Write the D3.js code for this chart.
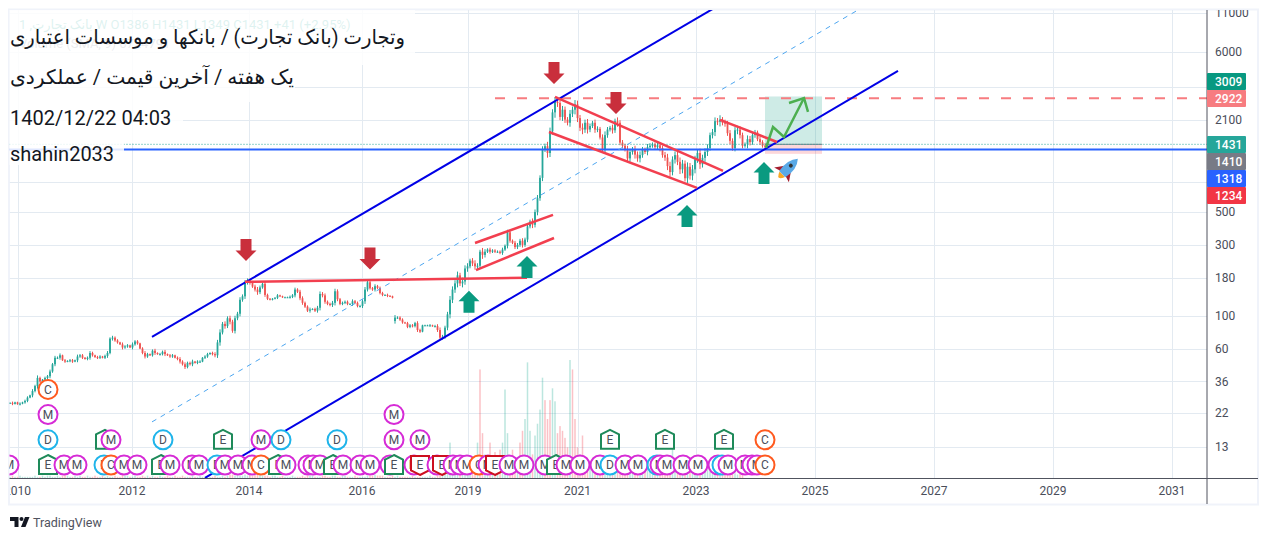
<!DOCTYPE html>
<html>
<head>
<meta charset="utf-8">
<script src="https://cdn.jsdelivr.net/npm/d3@7"></script>
<style>
  html, body { margin: 0; padding: 0; background: #fff; overflow: hidden; }
  text { font-family: Roboto, "DejaVu Sans", sans-serif; }
</style>
</head>
<body>
<div id="chart-container"></div>
<script>
// weekly closes, one entry per bar
const closesBeforeHalt = [25.8,25.4,26,25.3,25.5,26,26.6,28,29,31,33.5,38,36,37,38,39,42,47,52,
  52,54,50,49,49.5,50,49,50,53,54,52,51,52,56,54,52.5,52,53,52,53.5,56,70,71,68,66,64,61,62,63,61,64,67,65,60,56,53,55,54,58,56,55,55,57,55,54,53,54,52,51,49,47,45,48,47,49,48,49,49,52,53,55,56,55,54,66,77,88,85,96,91,79,96,103,128,135,167,173,
  167,157,150,144,155,164,138,130,128,130,132,137,135,133,133,133,134,137,150,145,131,122,115,108,110,111,108,113,140,137,124,120,118,122,146,129,120,122,124,120,120,125,122,116,116,125,150,168,153,150,158,154,142,138,138,136,135,132];
const reopenPrice = 92;
const closesAfterHalt = [97,97,94,90,89,84,86,85,89,80,78,86,86,86,86,85,85,80,71,72,83,102,128,150,165,187,165,170,208,215,235,225,215,217,270,257,270,279,270,275,270,270,265,279,296,365,320,310,290,300,320,300,326,400,431,410,500,620,850,1322,1390,1250,1750,2350,2760,2720,2190,2450,2100,2000,2300,2450,2660,2150,1850,1800,2000,1800,1900,2000,1800,1820,1590,1320,1650,1800,1850,1780,2050,2000,1470,1400,1320,1150,1270,1320,1220,1150,1210,1320,1270,1370,1400,1430,1370,1410,1350,1210,1165,1020,930,1130,1210,1090,970,1060,845,1010,880,970,1130,1250,1050,1160,1270,1350,1650,1730,2050,2030,2100,2000,1980,1700,1510,1350,1780,1800,1650,1400,1430,1550,1480,1650,1720,1550,1480,1400,1390,1431];

// how far the wicks stick out of each body, percent
const wickPct = [1,2,1,1,2,1,2,2,1,3,2,4,2,1,2,2,3,2,3,
  2,3,1,2,1,2,2,1,3,2,2,1,2,3,2,1,2,2,1,2,3,2,3,2,2,1,3,2,2,1,3,2,2,1,2,3,2,1,2,3,1,2,2,3,1,2,2,1,2,3,2,3,2,2,3,1,2,2,1,2,2,1,2,3,4,5,3,4,3,4,3,4,3,4,3,4,3,
  3,2,3,4,3,2,3,2,1,1,1,2,1,1,1,1,2,2,3,2,3,3,2,2,3,1,2,3,4,3,3,2,2,3,4,3,2,2,2,2,1,3,2,2,2,3,4,3,2,2,3,2,2,2,1,2,1,1,
  4,2,2,2,1,2,2,2,2,3,2,1,1,1,2,1,2,3,4,3,3,4,6,5,5,6,4,6,5,5,3,4,5,4,3,6,4,2,3,2,2,2,2,3,2,4,3,2,3,3,3,4,3,4,3,5,4,5,4,5,4,7,6,5,8,6,5,6,5,4,6,5,7,6,5,7,5,6,4,3,5,4,3,5,6,4,3,5,4,6,4,4,3,6,5,4,6,5,6,4,3,5,4,3,3,4,5,4,5,6,7,5,6,5,7,6,5,7,6,7,6,5,7,5,6,6,4,5,6,5,7,4,5,4,5,4,5,6,5,4,3,6,5,4,4,3,4,3,4,3,3,2,2,1];

// volume per bar, millions of shares
const volumes = [1,2,1,1,2,1,1,1,1,1,2,1,1,2,1,2,2,1,1,2,1,2,3,2,1,1,2,1,2,1,1,2,1,1,2,1,1,2,1,2,1,1,2,1,1,3,2,2,1,1,2,1,1,2,1,2,1,2,1,1,2,1,1,2,1,1,2,1,1,2,1,1,1,2,1,1,2,1,1,2,1,1,2,1,1,2,1,2,3,3,2,3,2,2,3,2,3,2,3,3,3,
  2,2,2,1,2,2,1,1,2,1,1,1,2,1,1,1,2,1,2,2,2,1,1,1,2,2,1,1,2,2,1,1,2,2,1,1,1,2,1,1,1,1,2,2,2,3,2,2,2,1,1,1,
  2,1,2,1,1,1,1,1,2,1,1,1,1,1,1,2,1,1,2,
  3,4,6,8,30,12,6,14,8,10,5,6,5,4,4,30,92,38,20,14,30,8,22,9,24,30,75,38,16,24,10,8,30,40,50,98,40,20,36,46,58,85,66,50,66,76,65,38,44,40,34,26,100,92,50,26,20,36,10,8,12,
  9,7,11,8,6,10,8,7,12,9,6,10,8,7,9,6,11,7,8,6,12,7,9,8,14,10,8,6,9,7,10,6,30,12,9,7,11,8,6,9,7,10,8,12,18,9,7,6,8,6,5,7,6,5,6,4,5,4,3,4,3];
// tall volume bars that show pink in the picture although the sampled close rises
const redVolumeBars = [188,189,204,205,214,215,216,219,220,221,225,226,227,229,230];

// x axis, bar number of each year label
const yearLabels = ['2010','2012','2014','2016','2019','2021','2023','2025','2027','2029','2031'];
const yearBars = [3,48.8,95.6,140.8,183.2,227,274.4,322,369.6,417.2,464.8];
const priceTicks = [11000,6000,3500,2100,800,500,300,180,100,60,36,22,13];
// these two sit under the price badges and never show
const coveredTicks = [3500,800];

// right hand side price labels, stacked top to bottom
const badgeValues = [3009,2922,1431,1410,1318,1234];
const badgeColors = ['#089981','#f77c80','#26a69a','#787b86','#2962ff','#f23645'];

// drawings, [bar, price]
const blueChannels = [
  [[56.8,71.9],[284,12513]],
  [[78,8.05],[355.2,4470]]
];
const midChannel = [[56.8,19.2],[339.2,11525]];
const redLines = [
  [[94,169],[206.8,180]],
  [[186,309],[217.2,478]],
  [[186.4,203],[217.6,334]],
  [[218,2985],[285.2,946]],
  [[215.6,1733],[274.8,727]],
  [[284,2089],[306.8,1484]]
];
const projection = [[302.4,1352],[305.2,1873],[309.6,1604],[317.6,2938]];
const projectionHead = [[311.6,2719],[317.6,2938],[319.2,2365]];
const longPosition = {from: 302, to: 324.8, target: 3009, entry: 1431, stop: 1234};
const downArrows = [[94.4,234],[144,205],[217.6,3655],[242.4,2292]];
const upArrows = [[183.6,147],[206.8,253],[270.8,558],[301.6,1088]];
const rocketAt = [311.4,991];
const resistance = {price: 2922, fromBar: 194};
const support = 1318;
const lastClose = 1431;

// earnings / dividend / split style markers, [type, bar], one list per stack level
const eventRows = [
  [['M',-0.4],['E',15.2],['M',21.6],['M',26.8],['D',37.6],['C',40.4],['M',45.6],['M',50.8],['E',60.4],['M',64],['M',72.8],['M',75.6],['D',82.8],['M',86],['M',91.2],['M',96.8],['C',100.4],['E',107.2],['M',110.4],['M',119.2],['M',121.2],['M',124],['E',129.2],['M',133.2],['M',140],['M',144],['M',152],['E',153.6],['M',161.6],['X',164],['M',170.8],['X',172.8],['M',177.2],['M',180],['M',182.8],['C',187.6],['M',191.2],['X',194],['M',199.6],['M',205.6],['M',214],['E',218.4],['M',222.4],['M',228],['M',236],['D',240],['M',246],['M',251.2],['D',258.8],['M',260],['M',262.8],['M',269.2],['M',275.2],['M',283.2],['D',284.8],['M',287.2],['M',294],['M',296.8],['M',298.8],['C',302]],
  [['D',15.2],['E',38],['M',40.4],['D',61.2],['E',85.2],['M',100.4],['D',108.4],['D',130.8],['M',153.6],['M',164],['E',240],['E',262],['E',285.6],['C',302]],
  [['M',15.2],['M',153.6]],
  [['C',15.2]]
];
const eventColors = {M: '#d62bd6', D: '#1fb4ea', C: '#ff5a1f', E: '#1e8a5a', X: '#cc0f1f'};

const width = 1269, height = 540;
const plotLeft = 9.5, plotRight = 1207, plotTop = 10, plotBottom = 478;

const svg = d3.select('#chart-container').append('svg')
  .attr('width', width).attr('height', height)
  .style('display', 'block');

svg.append('defs').append('clipPath').attr('id', 'plot')
  .append('rect').attr('x', plotLeft).attr('y', plotTop).attr('width', plotRight - plotLeft).attr('height', plotBottom - plotTop);
svg.select('defs').append('clipPath').attr('id', 'axis-y')
  .append('rect').attr('x', plotRight).attr('y', plotTop).attr('width', 51).attr('height', plotBottom - plotTop);
svg.select('defs').append('clipPath').attr('id', 'axis-x')
  .append('rect').attr('x', 10).attr('y', plotBottom).attr('width', 1248).attr('height', 26);

const x = d3.scaleLinear().domain([0, 479]).range([10, 1207.5]);
const y = d3.scaleLog().domain([11000, 13]).range([13, 447]);
const vol = d3.scaleLinear().domain([0, 100]).range([plotBottom, 360]);

// frame
svg.append('rect').attr('x', 9).attr('y', 9.5).attr('width', 1249).attr('height', 495)
  .attr('fill', 'none').attr('stroke', '#f0f3fa').attr('stroke-width', 2);

const plot = svg.append('g').attr('clip-path', 'url(#plot)');

// grid
plot.append('g').selectAll('line').data(priceTicks).enter().append('line')
  .attr('x1', plotLeft).attr('x2', plotRight)
  .attr('y1', d => Math.round(y(d)) + 0.5).attr('y2', d => Math.round(y(d)) + 0.5)
  .attr('stroke', '#e3eaf1').attr('stroke-width', 1);
plot.append('g').selectAll('line').data(yearBars).enter().append('line')
  .attr('x1', d => Math.round(x(d)) + 0.5).attr('x2', d => Math.round(x(d)) + 0.5)
  .attr('y1', plotTop).attr('y2', plotBottom)
  .attr('stroke', '#e3eaf1').attr('stroke-width', 1);

// bars
const closes = closesBeforeHalt.concat(closesAfterHalt);
const bars = closes.map((close, i) => {
  let open = i === 0 ? close : closes[i - 1];
  if (i === closesBeforeHalt.length) open = reopenPrice;
  const w = (wickPct[i] === undefined ? 2 : wickPct[i]) / 100;
  return {
    i, open, close,
    high: Math.max(open, close) * (1 + w),
    low: Math.min(open, close) * (1 - w),
    volume: volumes[i] === undefined ? 0 : volumes[i],
    up: close >= open
  };
});

plot.append('g').selectAll('rect').data(bars).enter().append('rect')
  .attr('x', d => x(d.i) - 0.75)
  .attr('width', 1.5)
  .attr('y', d => vol(d.volume))
  .attr('height', d => plotBottom - vol(d.volume))
  .attr('fill', d => d.up && !redVolumeBars.includes(d.i) ? '#22ab94' : '#f23645')
  .attr('opacity', 0.3);

const candle = plot.append('g').selectAll('g').data(bars).enter().append('g');
candle.append('line')
  .attr('x1', d => x(d.i)).attr('x2', d => x(d.i))
  .attr('y1', d => y(d.high)).attr('y2', d => y(d.low))
  .attr('stroke', d => d.up ? '#26a69a' : '#ef5350').attr('stroke-width', 1);
candle.append('rect')
  .attr('x', d => x(d.i) - 0.9)
  .attr('width', 1.8)
  .attr('y', d => y(Math.max(d.open, d.close)))
  .attr('height', d => Math.max(1, Math.abs(y(d.open) - y(d.close))))
  .attr('fill', d => d.up ? '#26a69a' : '#ef5350');

const line = d3.line().x(d => x(d[0])).y(d => y(d[1]));

// long position box
plot.append('rect')
  .attr('x', x(longPosition.from)).attr('width', x(longPosition.to) - x(longPosition.from))
  .attr('y', y(longPosition.target)).attr('height', y(longPosition.entry) - y(longPosition.target))
  .attr('fill', '#089981').attr('opacity', 0.2);
plot.append('rect')
  .attr('x', x(longPosition.from)).attr('width', x(longPosition.to) - x(longPosition.from))
  .attr('y', y(longPosition.entry)).attr('height', y(longPosition.stop) - y(longPosition.entry))
  .attr('fill', '#f23645').attr('opacity', 0.2);
plot.append('line')
  .attr('x1', x(longPosition.from)).attr('x2', x(longPosition.to))
  .attr('y1', y(longPosition.entry)).attr('y2', y(longPosition.entry))
  .attr('stroke', '#787b86').attr('stroke-width', 1);

// price lines
plot.append('line')
  .attr('x1', plotLeft).attr('x2', plotRight).attr('y1', y(lastClose)).attr('y2', y(lastClose))
  .attr('stroke', '#26a69a').attr('stroke-width', 1).attr('stroke-dasharray', '1,2');
plot.append('line')
  .attr('x1', plotLeft).attr('x2', plotRight).attr('y1', y(support)).attr('y2', y(support))
  .attr('stroke', '#2962ff').attr('stroke-width', 2);
plot.append('line')
  .attr('x1', x(resistance.fromBar)).attr('x2', plotRight).attr('y1', y(resistance.price)).attr('y2', y(resistance.price))
  .attr('stroke', '#f77c80').attr('stroke-width', 2).attr('stroke-dasharray', '10,12');

// channels
plot.append('g').selectAll('path').data(blueChannels).enter().append('path')
  .attr('d', line).attr('fill', 'none').attr('stroke', '#0000e6').attr('stroke-width', 2);
plot.append('path').attr('d', line(midChannel)).attr('fill', 'none')
  .attr('stroke', '#4da6f0').attr('stroke-width', 1).attr('stroke-dasharray', '5,5');
plot.append('g').selectAll('path').data(redLines).enter().append('path')
  .attr('d', line).attr('fill', 'none').attr('stroke', '#f23f4f').attr('stroke-width', 2.5);

plot.append('path').attr('d', line(projection)).attr('fill', 'none')
  .attr('stroke', '#4caf50').attr('stroke-width', 2.5);
plot.append('path').attr('d', line(projectionHead)).attr('fill', 'none')
  .attr('stroke', '#4caf50').attr('stroke-width', 2.5);

// big arrows, the tip sits on the price
const arrowUp = 'M0 0L10.5 10.5H5.5V22H-5.5V10.5H-10.5Z';
const arrowDown = 'M0 0L-10.5 -10.5H-5.5V-22H5.5V-10.5H10.5Z';
plot.append('g').selectAll('path').data(downArrows).enter().append('path')
  .attr('d', arrowDown).attr('fill', '#c92f3c')
  .attr('transform', d => `translate(${x(d[0])},${y(d[1])})`);
plot.append('g').selectAll('path').data(upArrows).enter().append('path')
  .attr('d', arrowUp).attr('fill', '#0a9a80')
  .attr('transform', d => `translate(${x(d[0])},${y(d[1])})`);

// rocket
const rocket = plot.append('g')
  .attr('transform', `translate(${x(rocketAt[0])},${y(rocketAt[1])}) rotate(45) scale(1.1)`);
rocket.append('path').attr('d', 'M-3.5 8Q0 17 3.5 8Z').attr('fill', '#f9a825');
rocket.append('path').attr('d', 'M-4 1L-9.5 9L-3 7Z').attr('fill', '#a51d2d');
rocket.append('path').attr('d', 'M4 1L9.5 9L3 7Z').attr('fill', '#a51d2d');
rocket.append('path').attr('d', 'M0 -12Q6.5 -5 4 8H-4Q-6.5 -5 0 -12Z').attr('fill', '#5aa9e6');
rocket.append('circle').attr('cx', 0).attr('cy', -3).attr('r', 1.8).attr('fill', '#333');

// markers
eventRows.forEach((row, level) => {
  const rowY = 465 - level * 25.2;
  const g = plot.append('g').selectAll('g').data(row).enter().append('g')
    .attr('transform', d => `translate(${x(d[1])},${rowY})`);
  g.filter(d => d[0] === 'E').append('path')
    .attr('d', 'M0 -10L9 -5.5V9H-9V-5.5Z');
  g.filter(d => d[0] === 'X').append('path')
    .attr('d', 'M0 10L9 5.5V-9H-9V5.5Z');
  g.filter(d => d[0] !== 'E' && d[0] !== 'X').append('circle').attr('r', 9.5);
  g.selectAll('path,circle')
    .attr('fill', '#fff').attr('stroke-width', 2)
    .attr('stroke', function () { return eventColors[d3.select(this.parentNode).datum()[0]]; });
  g.append('text')
    .attr('text-anchor', 'middle').attr('y', 4.3)
    .attr('font-size', 12).attr('fill', '#4a4e5a')
    .text(d => d[0] === 'X' ? 'E' : d[0]);
});

// legend, almost hidden by the white boxes on top of it
const legend = plot.append('g').attr('font-size', 13);
legend.append('text').attr('x', 19).attr('y', 29).attr('fill', '#26a69a')
  .text('1 ,بانک تجارت W  O1386  H1431  L1349  C1431  +41 (+2.95%)');
legend.append('text').attr('x', 19).attr('y', 48).attr('fill', '#787b86')
  .text('Volume (SMA, 9)  6724791');

// white boxes behind the title lines
const titleBoxes = [[9,10,406,55],[9,65,286,37],[9,102,174,41],[9,143,115,22]];
plot.append('g').selectAll('rect').data(titleBoxes).enter().append('rect')
  .attr('x', d => d[0]).attr('y', d => d[1]).attr('width', d => d[2]).attr('height', d => d[3])
  .attr('fill', '#fff').attr('opacity', 0.85);

const title = svg.append('g').attr('font-size', 20).attr('fill', '#131722');
title.append('text').attr('x', 405).attr('y', 44).style('direction', 'rtl')
  .attr('textLength', 395).attr('lengthAdjust', 'spacingAndGlyphs')
  .text('وتجارت (بانک تجارت) / بانکها و موسسات اعتباری');
title.append('text').attr('x', 294).attr('y', 84).style('direction', 'rtl')
  .attr('textLength', 284).attr('lengthAdjust', 'spacingAndGlyphs')
  .text('یک هفته / آخرین قیمت / عملکردی');
title.append('text').attr('x', 10).attr('y', 125).text('1402/12/22 04:03');
title.append('text').attr('x', 10).attr('y', 161).text('shahin2033');

// axes
svg.append('line').attr('x1', plotRight).attr('x2', plotRight).attr('y1', plotTop).attr('y2', 504)
  .attr('stroke', '#50535e').attr('stroke-width', 1);
svg.append('line').attr('x1', plotLeft).attr('x2', 1258).attr('y1', plotBottom + 0.5).attr('y2', plotBottom + 0.5)
  .attr('stroke', '#50535e').attr('stroke-width', 1);

svg.append('g').attr('clip-path', 'url(#axis-y)').selectAll('text')
  .data(priceTicks.filter(d => !coveredTicks.includes(d))).enter().append('text')
  .attr('x', 1215).attr('y', d => y(d) + 4.3)
  .attr('font-size', 12).attr('fill', '#4a4e5a')
  .text(d => d);

svg.append('g').attr('clip-path', 'url(#axis-x)').selectAll('text').data(yearLabels).enter().append('text')
  .attr('x', (d, i) => x(yearBars[i])).attr('y', 495)
  .attr('text-anchor', 'middle')
  .attr('font-size', 12).attr('fill', '#4a4e5a')
  .text(d => d);

const badge = svg.append('g').selectAll('g').data(badgeValues).enter().append('g')
  .attr('transform', (d, i) => `translate(1207,${73 + i * 17})`);
badge.append('rect').attr('width', 39).attr('height', 17).attr('rx', 1)
  .attr('fill', (d, i) => badgeColors[i]);
badge.append('text').attr('x', 8).attr('y', 12.7)
  .attr('font-size', 12).attr('font-weight', 500).attr('fill', '#fff')
  .text(d => d);
// 3009/2922 sit apart from the lower four
badge.filter((d, i) => i > 1)
  .attr('transform', (d, i) => `translate(1207,${136 + i * 17})`);

// footer
const logo = svg.append('g').attr('fill', '#131722');
logo.append('path').attr('d', 'M10 517H18.5V527H14.5V521H10Z');
logo.append('circle').attr('cx', 21.5).attr('cy', 519).attr('r', 2);
logo.append('path').attr('d', 'M25 517H29.5L25.5 527H21Z');
svg.append('text').attr('x', 33).attr('y', 526.5)
  .attr('font-size', 12.5).attr('fill', '#50535e').text('TradingView');
</script>
</body>
</html>
